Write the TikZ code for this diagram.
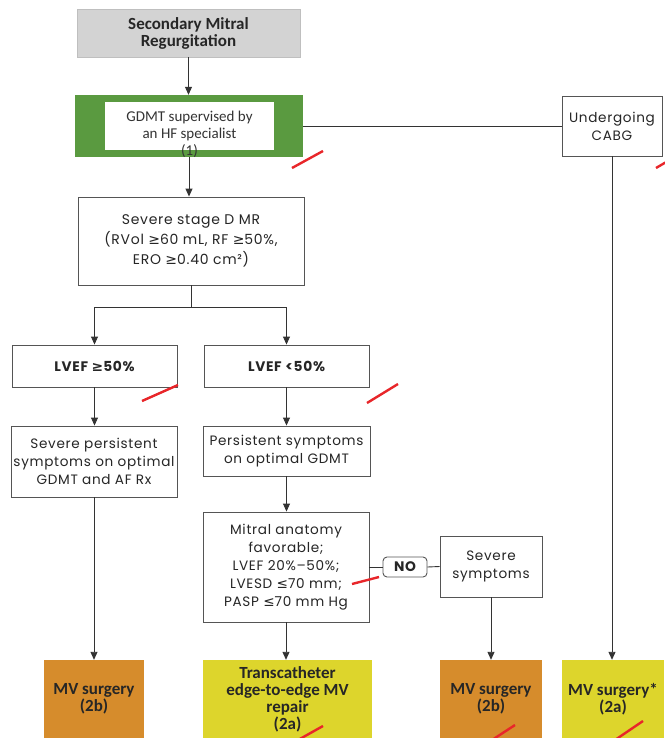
\documentclass[tikz,border=0pt]{standalone}
\usepackage{fontspec}
\setmainfont{Poppins}[LetterSpace=5]
\newfontfamily\calfont{Carlito}
\newfontfamily\symfont{DejaVu Sans}
\newcommand{\gesign}{{\symfont ≥}}
\newcommand{\lesign}{{\symfont ≤}}
\usetikzlibrary{arrows.meta}

\definecolor{lineclr}{HTML}{333333}
\definecolor{boxline}{HTML}{555555}
\definecolor{titlegray}{HTML}{D3D3D3}
\definecolor{hfgreen}{HTML}{5A9A40}
\definecolor{mvorange}{HTML}{D68C2C}
\definecolor{mvyellow}{HTML}{DDD52C}
\definecolor{markred}{HTML}{E8262A}

\tikzset{
  flowbox/.style={draw=boxline, line width=0.9pt, fill=white, align=center,
    inner sep=0pt, text=black!85, font=\fontsize{13.6}{18}\selectfont},
  boldbox/.style={flowbox, font=\fontsize{13.8}{18}\selectfont\bfseries},
  resultbox/.style={draw=none, align=center, inner sep=0pt, text=black!85,
    font=\calfont\fontsize{17}{17}\selectfont\bfseries},
  conn/.style={draw=lineclr, line width=0.9pt},
  arr/.style={conn, -{Triangle[length=8pt,width=7pt]}},
  slash/.style={draw=markred, line width=2.4pt}
}

\begin{document}
\begin{tikzpicture}[x=1pt,y=-1pt]
\useasboundingbox (0,0) rectangle (664,738);

% top of the chart
\node[draw=black!25, fill=titlegray, minimum width=223pt, minimum height=48pt,
  align=center, inner sep=0pt, text=black!85,
  font=\calfont\fontsize{17}{17}\selectfont\bfseries]
  (smr) at (188.5,33) {Secondary Mitral\\Regurgitation};

\node[fill=hfgreen, minimum width=228pt, minimum height=62pt, inner sep=0pt]
  (hf) at (189,126) {};
\node[fill=white, minimum width=169pt, minimum height=48pt, inner sep=0pt]
  (hfin) at (189.5,126) {};
\node[align=center, inner sep=0pt, text=black!80,
  font=\calfont\fontsize{15}{17}\selectfont]
  (hftxt) at (189.5,134) {GDMT supervised by\\an HF specialist\\(1)};

\node[flowbox, minimum width=100pt, minimum height=60pt]
  (cabg) at (612,126) {Undergoing\\CABG};

\node[flowbox, minimum width=226pt, minimum height=88pt,
  font=\fontsize{14}{20}\selectfont]
  (sev) at (191,241)
  {Severe stage D MR\\(RVol \gesign60 mL, RF \gesign50\%,\\ERO \gesign0.40 cm²)};

% LVEF branches
\node[boldbox, minimum width=165pt, minimum height=42pt]
  (lhi) at (94.5,366) {LVEF \gesign50\%};
\node[boldbox, minimum width=165pt, minimum height=42pt]
  (llo) at (286.5,366) {LVEF <50\%};

\node[flowbox, minimum width=166pt, minimum height=71pt]
  (spers) at (94,461.5) {Severe persistent\\symptoms on optimal\\GDMT and AF Rx};
\node[flowbox, minimum width=167pt, minimum height=50pt]
  (pers) at (286.5,451) {Persistent symptoms\\on optimal GDMT};

\node[flowbox, minimum width=166pt, minimum height=110pt]
  (anat) at (286,567)
  {Mitral anatomy\\favorable;\\LVEF 20\%–50\%;\\LVESD \lesign70 mm;\\PASP \lesign70 mm Hg};

\node[boldbox, rounded corners=4pt, minimum width=44pt, minimum height=20pt]
  (no) at (405,567) {NO};
\node[flowbox, minimum width=102pt, minimum height=61pt]
  (ssym) at (491,566.5) {Severe\\symptoms};

% outcomes
\node[resultbox, fill=mvorange, minimum width=100pt, minimum height=78pt]
  (mv1) at (94,699) {MV surgery\\(2b)};
\node[resultbox, fill=mvyellow, minimum width=169pt, minimum height=78pt]
  (teer) at (287.5,699) {Transcatheter\\edge-to-edge MV\\repair\\(2a)};
\node[resultbox, fill=mvorange, minimum width=102pt, minimum height=78pt]
  (mv2) at (491,699) {MV surgery\\(2b)};
\node[resultbox, fill=mvyellow, minimum width=102pt, minimum height=78pt]
  (mv3) at (613,699) {MV surgery*\\(2a)};

% connectors
\draw[arr] (smr.south) -- (smr.south |- hf.north);
\draw[conn] (hf.east) -- (hf.east -| cabg.west);
\draw[arr] (hf.south) -- (hf.south |- sev.north);
\draw[conn] (sev.south) -- ++(0,22) coordinate (split);
\draw[arr] (split) -| (lhi.north);
\draw[arr] (split) -| (llo.north);
\draw[arr] (lhi.south) -- (lhi.south |- spers.north);
\draw[arr] (llo.south) -- (llo.south |- pers.north);
\draw[arr] (pers.south) -- (pers.south |- anat.north);
\draw[arr] (spers.south) -- (spers.south |- mv1.north);
\draw[arr] (anat.south) -- (anat.south |- teer.north);
\draw[conn] (anat.east) -- (no.west);
\draw[conn] (no.east) -- (ssym.west);
\draw[arr] (ssym.south) -- (ssym.south |- mv2.north);
\draw[arr] (cabg.south) -- (cabg.south |- mv3.north);

% red pen strokes
\draw[slash] (292,168) -- (323,151);
\draw[slash] (656,168) -- (668,161);
\draw[slash] (142,401) -- (178,385);
\draw[slash] (367,403) -- (398,384);
\draw[slash] (352,584) -- (379,577);
\draw[slash] (298,740) -- (323,726);
\draw[slash] (492,740) -- (515,725);
\draw[slash] (615,740) -- (643,721);
\end{tikzpicture}
\end{document}
